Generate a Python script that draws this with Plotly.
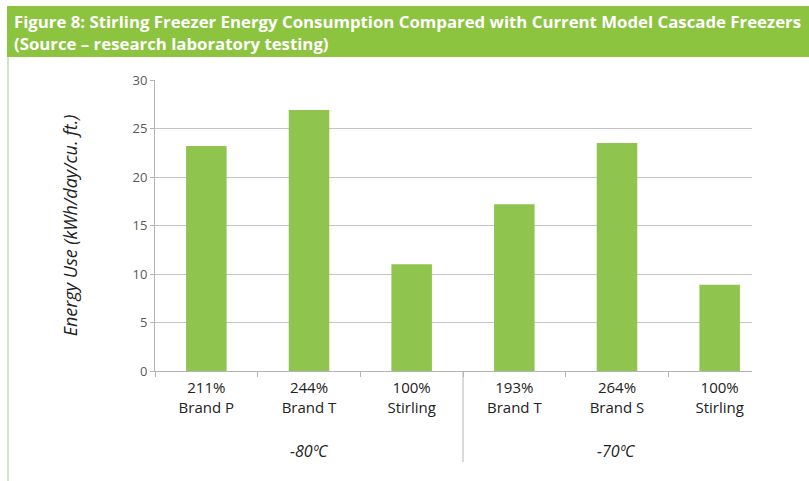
import plotly.graph_objects as go

# Freezer energy use, grouped by set-point temperature
groups = ["-80ºC", "-70ºC"]
group_members = [3, 3]
models = ["Brand P", "Brand T", "Stirling", "Brand T", "Brand S", "Stirling"]
relative = ["211%", "244%", "100%", "193%", "264%", "100%"]
energy = [23.2, 26.9, 11.0, 17.2, 23.5, 8.9]
y_ticks = [0, 5, 10, 15, 20, 25, 30]

W, H = 809, 481
BAR = "#8fc54f"
BANNER = "#8cc43f"
AXIS = "#b4b4b4"

pos = list(range(len(energy)))
labels = [f"{r}<br>{m}" for r, m in zip(relative, models)]

fig = go.Figure()
fig.add_trace(go.Bar(
    x=pos,
    y=energy,
    marker=dict(color=BAR, line=dict(width=0)),
    width=0.395,
    hoverinfo="y",
))

fig.update_layout(
    width=W, height=H,
    margin=dict(l=0, r=0, t=0, b=0),
    paper_bgcolor="white",
    plot_bgcolor="white",
    showlegend=False,
    font=dict(family="Open Sans, sans-serif", color="#222222"),
    xaxis=dict(
        domain=[155 / W, 752 / W],
        range=[-0.5, 5.315],
        automargin=False,
        showgrid=False,
        zeroline=False,
        showline=True, linecolor=AXIS, linewidth=1,
        tickvals=pos, ticktext=labels, ticks="",
        ticklabelstandoff=3,
        minor=dict(tickvals=[p - 0.5 for p in pos], ticks="outside",
                   ticklen=5, tickcolor=AXIS, showgrid=False),
        tickfont=dict(size=15, color="#222222"),
    ),
    yaxis=dict(
        domain=[(H - 371) / H, (H - 80) / H],
        range=[0, 30],
        automargin=False,
        tickvals=y_ticks,
        showgrid=True, gridcolor="#c4c4c4", gridwidth=1,
        showline=True, linecolor=AXIS, linewidth=1,
        ticks="outside", ticklen=4, tickcolor=AXIS,
        zeroline=False,
        tickfont=dict(size=13, color="#595959"),
        title=dict(
            text="<i>Energy Use (kWh/day/cu. ft.)</i>",
            font=dict(size=18, color="#222222"),
            standoff=50,
        ),
    ),
)

# Group labels under the category labels, with a divider between groups
start = 0
for name, n in zip(groups, group_members):
    centre = start + (n - 1) / 2
    fig.add_annotation(xref="x", yref="paper", x=centre, y=(H - 451) / H,
                       yanchor="middle",
                       text=f"<i>{name}</i>", showarrow=False,
                       font=dict(size=16, color="#222222"))
    start += n
    if start < len(energy):
        fig.add_shape(type="line", xref="x", yref="paper",
                      x0=start - 0.5, x1=start - 0.5,
                      y0=(H - 371) / H, y1=(H - 462) / H,
                      line=dict(color=AXIS, width=1))

# Title banner and left rule
fig.add_shape(type="rect", xref="paper", yref="paper",
              x0=7 / W, x1=1, y0=1 - 57 / H, y1=1 - 6 / H,
              fillcolor=BANNER, line=dict(width=0), layer="below")
fig.add_shape(type="line", xref="paper", yref="paper",
              x0=8 / W, x1=8 / W, y0=0, y1=1 - 57 / H,
              line=dict(color="#d5e6bf", width=2), layer="below")
fig.add_annotation(
    xref="paper", yref="paper", x=12 / W, y=1 - 8 / H,
    xanchor="left", yanchor="top", align="left", showarrow=False,
    text="<b>Figure 8: Stirling Freezer Energy Consumption Compared with Current Model Cascade Freezers<br>"
         "(Source – research laboratory testing)</b>",
    font=dict(size=16.8, color="white", family="Open Sans, sans-serif"),
)

fig.write_html("out.html")
